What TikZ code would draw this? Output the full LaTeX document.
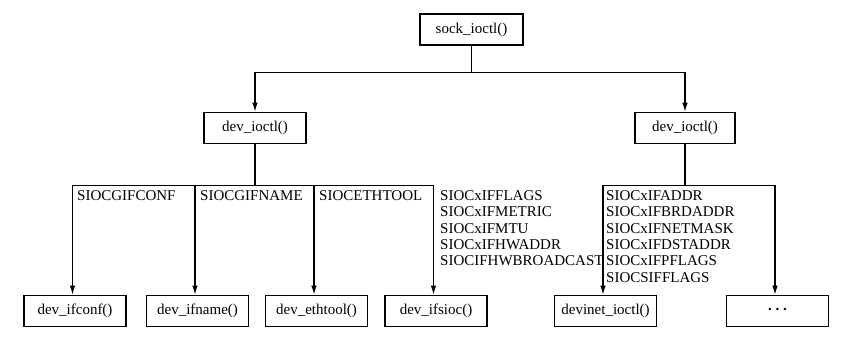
\documentclass[tikz,border=0pt]{standalone}
\usepackage{fontspec}
\setmainfont{Liberation Serif}
\usetikzlibrary{arrows.meta, positioning}

\begin{document}
\begin{tikzpicture}[x=1pt, y=-1pt]
	\tikzset{
		func/.style={draw, line width=1.6pt, minimum height=31pt, minimum width=102pt, inner sep=0pt, font=\fontsize{15}{16.3}\selectfont},
		link/.style={line width=1.2pt},
		call/.style={link, -{Latex[length=9pt, width=5.5pt]}},
		ioc/.style={anchor=north west, align=left, inner sep=0pt, font=\fontsize{15}{16.3}\selectfont}
	}
	\useasboundingbox (0,0) rectangle (859,347);

	% top level and the two dispatchers
	\node[func, minimum width=103pt] (sock) at (471.5,29.5) {sock\_ioctl()};
	\node[func] (devL) at (255,128) {dev\_ioctl()};
	\node[func, minimum width=100pt] (devR) at (685,128) {dev\_ioctl()};

	\draw[call] (sock.south) -- ++(0,27) -| (devL.north);
	\draw[call] (sock.south) -- ++(0,27) -| (devR.north);

	% handlers
	\foreach \nm/\cx/\txt in {ifconf/75/dev\_ifconf(), ifname/197.5/dev\_ifname(), ethtool/316.5/dev\_ethtool(), ifsioc/436/dev\_ifsioc(), devinet/605.5/devinet\_ioctl(), more/777.5/{\raisebox{4pt}{\textbf{.\ .\ .}}}} {
		\node[func] (\nm) at (\cx,311) {\txt};
	}

	\foreach \nm in {ifconf, ifname, ethtool, ifsioc} {
		\draw[call] (devL.south) -- ++(0,41) -| ([xshift=-2.5pt]\nm.north);
	}
	\foreach \nm in {devinet, more} {
		\draw[call] (devR.south) -- ++(0,41) -| ([xshift=-2.5pt]\nm.north);
	}

	% ioctl commands
	\node[ioc] (cmdConf) at (77,190.5) {SIOCGIFCONF};
	\node[ioc] (cmdName) at (200,190.5) {SIOCGIFNAME};
	\node[ioc] (cmdEth) at (319,190.5) {SIOCETHTOOL};
	\node[ioc] (cmdSioc) at (440,190.5) {SIOCxIFFLAGS\\SIOCxIFMETRIC\\SIOCxIFMTU\\SIOCxIFHWADDR\\SIOCIFHWBROADCAST};
	\node[ioc] (cmdInet) at (606,190.5) {SIOCxIFADDR\\SIOCxIFBRDADDR\\SIOCxIFNETMASK\\SIOCxIFDSTADDR\\SIOCxIFPFLAGS\\SIOCSIFFLAGS};
\end{tikzpicture}
\end{document}
